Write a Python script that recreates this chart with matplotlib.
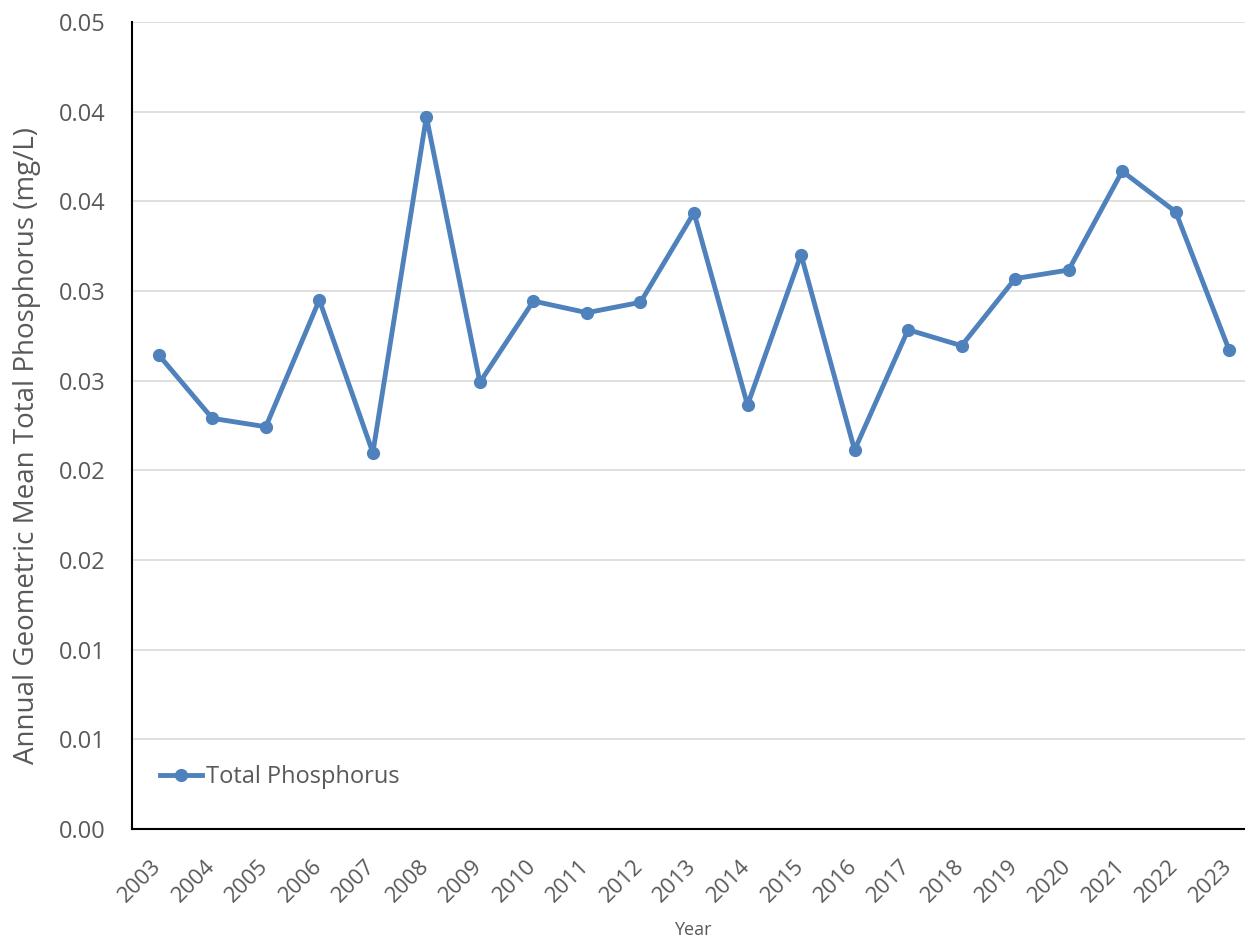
import matplotlib
matplotlib.use("Agg")
import matplotlib.pyplot as plt
import matplotlib.transforms as mtransforms
from matplotlib.ticker import FixedLocator

years = [str(y) for y in range(2003, 2024)]
total_phosphorus = [0.02643, 0.02290, 0.02243, 0.02950, 0.02098, 0.03972, 0.02491,
                    0.02944, 0.02879, 0.02937, 0.03437, 0.02364, 0.03203, 0.02113,
                    0.02784, 0.02695, 0.03069, 0.03117, 0.03668, 0.03441, 0.02669]
y_ticks = [0.0, 0.005, 0.01, 0.015, 0.02, 0.025, 0.03, 0.035, 0.04, 0.045]
y_tick_labels = ["0.00", "0.01", "0.01", "0.02", "0.02", "0.03", "0.03", "0.04", "0.04", "0.05"]

plt.rcParams['font.family'] = ['Open Sans', 'DejaVu Sans']
gray = '#595959'
blue = '#4F81BD'

W, H = 1245, 941
ax_left, ax_right, ax_top, ax_bottom = 132, 1256, 22, 829
fig = plt.figure(figsize=(W/100, H/100), dpi=100)
ax = fig.add_axes([ax_left/W, 1 - ax_bottom/H, (ax_right-ax_left)/W, (ax_bottom-ax_top)/H])
ax_w = ax_right - ax_left
ax_h = ax_bottom - ax_top

x = list(range(len(years)))
ax.plot(x, total_phosphorus, color=blue, lw=3.5, marker='o', markersize=8.5,
        label='Total Phosphorus', solid_joinstyle='round', zorder=3)

ax.set_xlim(-0.5, len(years) - 0.5)
ax.set_ylim(0, 0.045)
ax.yaxis.set_major_locator(FixedLocator(y_ticks))
ax.set_yticklabels(y_tick_labels)
ax.set_xticks(x)
ax.set_xticklabels(years, rotation=45, ha='right', rotation_mode='anchor')

ax.grid(axis='y', color='#d9d9d9', lw=1.2, zorder=0)
ax.set_axisbelow(True)
for s in ['top', 'right']:
    ax.spines[s].set_visible(False)
ax.spines['left'].set_color('black')
ax.spines['bottom'].set_color('black')
ax.spines['left'].set_linewidth(1.5)
ax.spines['bottom'].set_linewidth(1.5)

ax.tick_params(axis='y', length=0, labelsize=17, labelcolor=gray, pad=19)
ax.tick_params(axis='x', length=0, labelsize=16, labelcolor=gray, pad=19.5)
shift = mtransforms.ScaledTranslation(-8/100, 0, fig.dpi_scale_trans)
for lbl in ax.get_xticklabels():
    lbl.set_transform(lbl.get_transform() + shift)

ax.set_ylabel('Annual Geometric Mean Total Phosphorus (mg/L)', fontsize=20, color=gray)
ax.yaxis.set_label_coords((41.5 - ax_left)/ax_w, (ax_bottom - 445.5)/ax_h)
fig.text(693/W, 1 - 930/H, 'Year', fontsize=13, color=gray, ha='center', va='center')

leg = ax.legend(loc='center left', bbox_to_anchor=((160-ax_left)/ax_w, (ax_bottom-777)/ax_h),
                frameon=False, borderpad=0, borderaxespad=0,
                fontsize=17, handlelength=1.78, handletextpad=0.15)
for t in leg.get_texts():
    t.set_color(gray)

fig.savefig('out.png', dpi=100)
